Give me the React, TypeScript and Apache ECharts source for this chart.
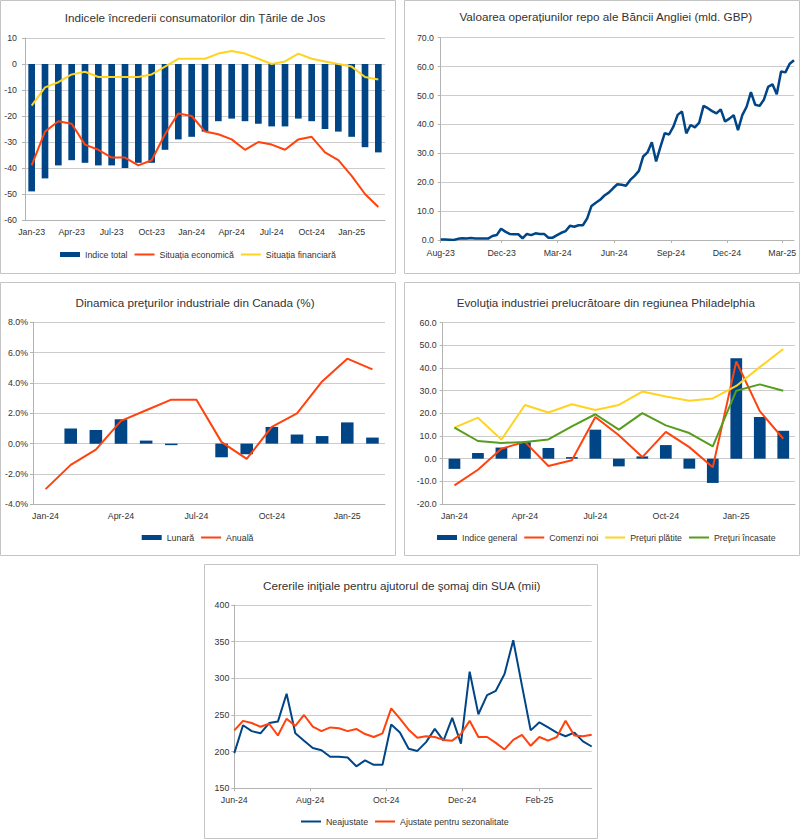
import React, { useEffect, useRef } from 'react';
import * as echarts from 'echarts';

// ---------- Panel 1: Netherlands consumer confidence ----------
const ccMonths = ['Jan-23','Feb-23','Mar-23','Apr-23','May-23','Jun-23','Jul-23','Aug-23','Sep-23','Oct-23','Nov-23','Dec-23',
  'Jan-24','Feb-24','Mar-24','Apr-24','May-24','Jun-24','Jul-24','Aug-24','Sep-24','Oct-24','Nov-24','Dec-24',
  'Jan-25','Feb-25','Mar-25'];
const ccTotal = [-49,-44,-39,-37,-38,-39,-39,-40,-38,-38,-33,-29,-28,-26,-22,-21,-22,-23,-24,-24,-21,-22,-25,-26,-28,-32,-34];
const ccEcon = [-39,-26,-22,-23,-31,-33,-36,-36,-39,-37,-27,-19,-20,-26,-27,-29,-33,-30,-31,-33,-29,-28,-34,-37,-43,-50,-55];
const ccFin = [-16,-9,-7,-4,-3,-5,-5,-5,-5,-4,-1,2,2,2,4,5,4,2,0,1,4,2,1,0,-1,-5,-6];

// ---------- Panel 2: Bank of England repo (weekly, bn GBP) ----------
const repoStartDate = '2023-08-24';
const repoValues = [0.2,0.2,0.1,0.0,0.4,0.6,0.5,0.7,0.5,0.5,0.5,0.5,1.4,1.7,3.9,2.9,2.1,2.0,2.0,0.6,
  2.1,1.7,2.3,2.1,2.1,0.8,0.8,1.7,2.5,3.1,4.9,4.6,5.1,5.1,7.5,11.8,12.9,13.9,15.4,16.4,
  17.9,19.3,19.1,18.8,20.8,22.2,23.9,28.9,30.3,33.8,27.2,32.2,37.0,36.5,39.2,43.3,44.5,36.9,39.8,39.0,
  40.6,46.4,45.6,44.6,43.8,45.2,41.0,42.0,43.2,38.0,43.2,46.1,51.2,46.8,46.4,48.5,53.0,53.9,50.4,58.3,
  58.0,61.0,62.2];
const repoTickDates = ['2023-08-24','2023-12-01','2024-03-01','2024-06-01','2024-09-01','2024-12-01','2025-03-01'];

// ---------- Panel 3: Canada industrial prices ----------
const cpMonths = ['Jan-24','Feb-24','Mar-24','Apr-24','May-24','Jun-24','Jul-24','Aug-24','Sep-24','Oct-24','Nov-24','Dec-24','Jan-25','Feb-25'];
const cpMonthly = [0, 1.0, 0.9, 1.6, 0.2, -0.1, 0, -0.9, -0.7, 1.1, 0.6, 0.5, 1.4, 0.4];
const cpAnnual = [-3.0, -1.4, -0.4, 1.5, 2.2, 2.9, 2.9, 0.1, -1.0, 1.1, 2.0, 4.1, 5.6, 4.9];

// ---------- Panel 4: Philadelphia manufacturing ----------
const phMonths = ['Jan-24','Feb-24','Mar-24','Apr-24','May-24','Jun-24','Jul-24','Aug-24','Sep-24','Oct-24','Nov-24','Dec-24','Jan-25','Feb-25','Mar-25'];
const phIndex = [-4.5, 2.5, 4.9, 7.3, 4.7, 0.7, 12.8, -3.4, 1.0, 6.0, -4.4, -10.7, 44.3, 18.4, 12.3];
const phOrders = [-11.8, -4.9, 4.4, 7.4, -3.2, -0.7, 18.4, 10.3, 0.7, 11.8, 5.1, -3.8, 42.9, 21.0, 8.8];
const phPaid = [13.7, 18.1, 8.4, 23.7, 20.4, 24.0, 21.5, 23.7, 29.6, 27.4, 25.6, 26.6, 32.1, 40.4, 48.4];
const phReceived = [13.7, 7.8, 6.9, 7.4, 8.5, 14.3, 19.6, 12.8, 20.1, 14.7, 11.3, 5.4, 30.0, 32.8, 30.0];

// ---------- Panel 5: US initial jobless claims (weekly, thousands) ----------
const claimsStartDate = '2024-06-01';
const claimsNSA = [198,236,228,225,239,241,279,225,215,205,202,193,193,192,180,188,182,182,237,226,
  204,201,213,231,215,246,211,309,251,277,283,306,352,290,229,240,233,226,221,226,214,207];
const claimsSA = [229,242,239,234,238,222,245,235,250,234,228,233,232,228,231,224,220,225,259,245,
  230,219,221,220,216,215,224,242,220,220,212,203,216,223,208,220,215,220,242,222,221,223];
const claimsTickDates = ['2024-06-01','2024-08-01','2024-10-01','2024-12-01','2025-02-01'];

// ---------- styling ----------
const FONT = '"Liberation Sans", Arial, sans-serif';
const TXT = '#333333';
const GRID = '#cccccc';
const AX = '#b3b3b3';
const BLUE = '#004586';
const RED = '#ff420e';
const YELLOW = '#ffd320';
const GREEN = '#579d1c';
const WEEK = 7 * 86400000;
const MONTHS = ['Jan','Feb','Mar','Apr','May','Jun','Jul','Aug','Sep','Oct','Nov','Dec'];

const ts = (s: string) => {
  const [y, m, d] = s.split('-').map(Number);
  return Date.UTC(y, m - 1, d);
};
const fmtMonth = (v: number) => {
  const d = new Date(v);
  return MONTHS[d.getUTCMonth()] + '-' + String(d.getUTCFullYear()).slice(2);
};
const weekly = (start: string, vals: number[]) => vals.map((v, i) => [ts(start) + i * WEEK, v]);

const axisFont = { fontSize: 8.8, color: TXT, fontFamily: FONT };

const catX = (gridIndex: number, data: string[], margin: number) => ({
  type: 'category', gridIndex, data, boundaryGap: true,
  axisLine: { show: true, onZero: false, lineStyle: { color: AX } },
  axisTick: { show: false },
  axisLabel: { ...axisFont, interval: 2, margin },
  splitLine: { show: false },
});

const timeX = (gridIndex: number, min: number, max: number, ticks: number[], margin: number) => ({
  type: 'value', gridIndex, min, max,
  axisLine: { show: true, onZero: false, lineStyle: { color: AX } },
  axisTick: { show: true, length: 3, lineStyle: { color: AX }, customValues: ticks },
  axisLabel: { ...axisFont, margin, customValues: ticks, formatter: (v: number) => fmtMonth(v) },
  splitLine: { show: false },
});

const valY = (gridIndex: number, min: number, max: number, interval: number, fmt: (v: number) => string, margin: number) => ({
  type: 'value', gridIndex, min, max, interval,
  axisLine: { show: true, lineStyle: { color: AX } },
  axisTick: { show: true, length: 3, lineStyle: { color: AX } },
  axisLabel: { ...axisFont, margin, formatter: fmt },
  splitLine: { show: true, lineStyle: { color: GRID, width: 1 } },
});

const lineS = (name: string, data: any[], color: string, axis: number, width = 2) => ({
  type: 'line', name, data, xAxisIndex: axis, yAxisIndex: axis,
  symbol: 'none', showSymbol: false,
  lineStyle: { color, width }, itemStyle: { color },
  z: 3,
});
const barS = (name: string, data: number[], axis: number) => ({
  type: 'bar', name, data, xAxisIndex: axis, yAxisIndex: axis,
  barWidth: '50%', itemStyle: { color: BLUE }, z: 2,
});

const legendBase = {
  orient: 'horizontal', itemWidth: 20, itemHeight: 5, itemGap: 6, padding: 0,
  textStyle: { ...axisFont },
  selectedMode: false,
};
const barItem = (name: string) => ({ name, icon: 'rect' });
const lineItem = (name: string) => ({ name, itemStyle: { opacity: 0 } });

const titleText = (text: string, x: number, y: number) => ({
  type: 'text', x, y, silent: true,
  style: { text, fontSize: 11.7, fontFamily: FONT, fill: TXT, align: 'center', verticalAlign: 'middle' },
});
const frame = (x: number, y: number, w: number, h: number) => ({
  type: 'rect', silent: true,
  shape: { x, y, width: w, height: h },
  style: { fill: 'none', stroke: '#c4c4c4', lineWidth: 1 },
});

const repoTicks = repoTickDates.map(ts);
const claimsTicks = claimsTickDates.map(ts);
const repoData = weekly(repoStartDate, repoValues);
const claimsNSAData = weekly(claimsStartDate, claimsNSA);
const claimsSAData = weekly(claimsStartDate, claimsSA);

const option: any = {
  animation: false,
  backgroundColor: '#ffffff',
  textStyle: { fontFamily: FONT },
  grid: [
    { left: 25, top: 38, width: 360, height: 182, outerBoundsMode: 'none' },
    { left: 440.7, top: 37.7, width: 353.3, height: 202.3, outerBoundsMode: 'none' },
    { left: 33, top: 322.3, width: 352, height: 182, outerBoundsMode: 'none' },
    { left: 442.7, top: 322.7, width: 352.3, height: 181.3, outerBoundsMode: 'none' },
    { left: 234.3, top: 605, width: 357.4, height: 183.3, outerBoundsMode: 'none' },
  ],
  xAxis: [
    catX(0, ccMonths, 7.2),
    timeX(1, ts(repoStartDate), ts(repoStartDate) + (repoValues.length - 1) * WEEK, repoTicks, 8.2),
    catX(2, cpMonths, 7.2),
    catX(3, phMonths, 7.5),
    timeX(4, ts(claimsStartDate), ts(claimsStartDate) + (claimsNSA.length - 1) * WEEK, claimsTicks, 7.2),
  ],
  yAxis: [
    valY(0, -60, 10, 10, (v) => String(v), 8),
    valY(1, 0, 70, 10, (v) => v.toFixed(1), 6.7),
    valY(2, -4, 8, 2, (v) => v.toFixed(1) + '%', 5),
    valY(3, -20, 60, 10, (v) => v.toFixed(1), 6),
    valY(4, 150, 400, 50, (v) => String(v), 5),
  ],
  legend: [
    { ...legendBase, left: 60, top: 250,
      data: [barItem('Indice total'), lineItem('Situația economică'), lineItem('Situația financiară')] },
    { ...legendBase, left: 141.7, top: 533,
      data: [barItem('Lunară'), lineItem('Anuală')] },
    { ...legendBase, left: 437, top: 533,
      data: [barItem('Indice general'), lineItem('Comenzi noi'), lineItem('Preţuri plătite'), lineItem('Preţuri încasate')] },
    { ...legendBase, left: 300, top: 817,
      data: [lineItem('Neajustate'), lineItem('Ajustate pentru sezonalitate')] },
  ],
  series: [
    barS('Indice total', ccTotal, 0),
    lineS('Situația economică', ccEcon, RED, 0),
    lineS('Situația financiară', ccFin, YELLOW, 0),

    lineS('Operațiuni repo', repoData, BLUE, 1, 2.5),

    barS('Lunară', cpMonthly, 2),
    lineS('Anuală', cpAnnual, RED, 2),

    barS('Indice general', phIndex, 3),
    lineS('Comenzi noi', phOrders, RED, 3),
    lineS('Preţuri plătite', phPaid, YELLOW, 3),
    lineS('Preţuri încasate', phReceived, GREEN, 3),

    lineS('Neajustate', claimsNSAData, BLUE, 4),
    lineS('Ajustate pentru sezonalitate', claimsSAData, RED, 4),
  ],
  graphic: [
    frame(0.5, 0.5, 395, 273),
    frame(404.5, 0.5, 395, 273),
    frame(0.5, 282.5, 395, 273),
    frame(404.5, 282.5, 395, 273),
    frame(204.5, 564.5, 393, 274),
    titleText('Indicele încrederii consumatorilor din Țările de Jos', 195, 17),
    titleText('Valoarea operațiunilor repo ale Băncii Angliei (mld. GBP)', 605.8, 16.3),
    titleText('Dinamica preţurilor industriale din Canada (%)', 195, 302.7),
    titleText('Evoluţia industriei prelucrătoare din regiunea Philadelphia', 605.8, 302.7),
    titleText('Cererile iniţiale pentru ajutorul de şomaj din SUA (mii)', 401.7, 585),
  ],
};

export default function App() {
  const ref = useRef<HTMLDivElement>(null);
  useEffect(() => {
    if (!ref.current) return;
    const chart = echarts.init(ref.current, null, { renderer: 'svg' });
    chart.setOption(option);
    return () => chart.dispose();
  }, []);
  return (
    <div
      ref={ref}
      style={{ position: 'absolute', left: 0, top: 0, width: 800, height: 839, background: '#ffffff' }}
    />
  );
}
